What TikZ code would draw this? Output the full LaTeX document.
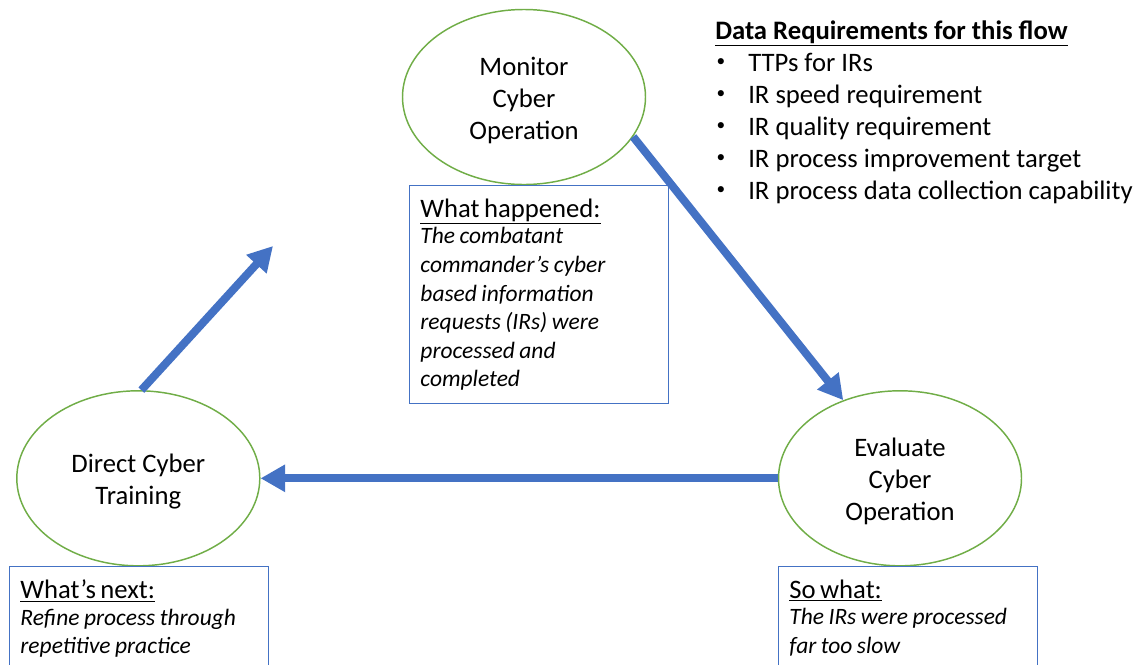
\documentclass[tikz,border=0pt]{standalone}
\usepackage{fontspec}
\setmainfont{Carlito}
\usetikzlibrary{shapes.geometric,arrows.meta}
\definecolor{flowblue}{HTML}{4472C4}
\definecolor{stagegreen}{HTML}{70AD47}
\newcommand{\bigtxt}{\fontsize{20pt}{24pt}\selectfont}
\newcommand{\smalltxt}{\fontsize{17.6pt}{21.4pt}\selectfont\itshape}
\newcommand{\toppad}{\rule{0pt}{18.5pt}}
\begin{document}
\begin{tikzpicture}[x=0.75pt,y=-0.75pt,
  stage/.style={ellipse,draw=stagegreen,line width=1.1pt,align=center,
    inner sep=0pt,minimum width=182.25pt,minimum height=131.25pt,font=\bigtxt},
  notebox/.style={draw=flowblue,line width=0.9pt,anchor=north west,
    text width=178pt,align=left,inner xsep=8pt,inner ysep=10pt,
    minimum width=194.25pt},
  flow/.style={draw=flowblue,line width=6pt,
    -{Triangle[length=18.5pt,width=19.5pt]}},
  req/.style={anchor=base west,inner sep=0pt,font=\bigtxt}]
\useasboundingbox (0,0) rectangle (1138,664);
\clip (0,0) rectangle (1138,664);

% process stages
\node[stage] (mon) at (524,97) {\toppad Monitor\\Cyber\\Operation};
\node[stage] (dct) at (138.3,478.3) {\toppad Direct Cyber\\Training};
\node[stage] (evl) at (900,478.3) {\toppad Evaluate\\Cyber\\Operation};

% commentary boxes
\node[notebox,minimum height=162pt] (happened) at (409,185)
  {{\bigtxt\underline{What happened:}}\par\vspace{-1.5pt}
   {\smalltxt The combatant\\commander’s cyber\\based information\\
    requests (IRs) were\\processed and\\completed\par}};
\node[notebox] (next) at (9,566)
  {{\bigtxt\underline{What’s next:}}\par\vspace{-1.5pt}
   {\smalltxt Refine process through\\repetitive practice\par}\vspace{30pt}};
\node[notebox] (sowhat) at (778,566)
  {{\bigtxt\underline{So what:}}\par\vspace{-1.5pt}
   {\smalltxt The IRs were processed\\far too slow\par}\vspace{30pt}};

% data requirements list
\node[req,font=\bigtxt\bfseries] (reqhead) at (715,39) {\underline{Data Requirements for this flow}};
\foreach \i/\t in {1/TTPs for IRs,2/IR speed requirement,3/IR quality requirement,
                   4/IR process improvement target,5/IR process data collection capability}{
  \node[anchor=center,inner sep=0pt,font=\fontsize{13pt}{13pt}\selectfont] (bul\i) at (721,63+32*\i-32) {•};
  \node[req] (req\i) at (748,63+32*\i-32+8) {\t};
}

% flow arrows
\coordinate (nextstep) at (273,246);
\draw[flow] (mon.-20.8) -- (evl.126.5);
\draw[flow] (evl.west) -- (dct.east);
\draw[flow] (dct.88) -- (nextstep);
\end{tikzpicture}
\end{document}
